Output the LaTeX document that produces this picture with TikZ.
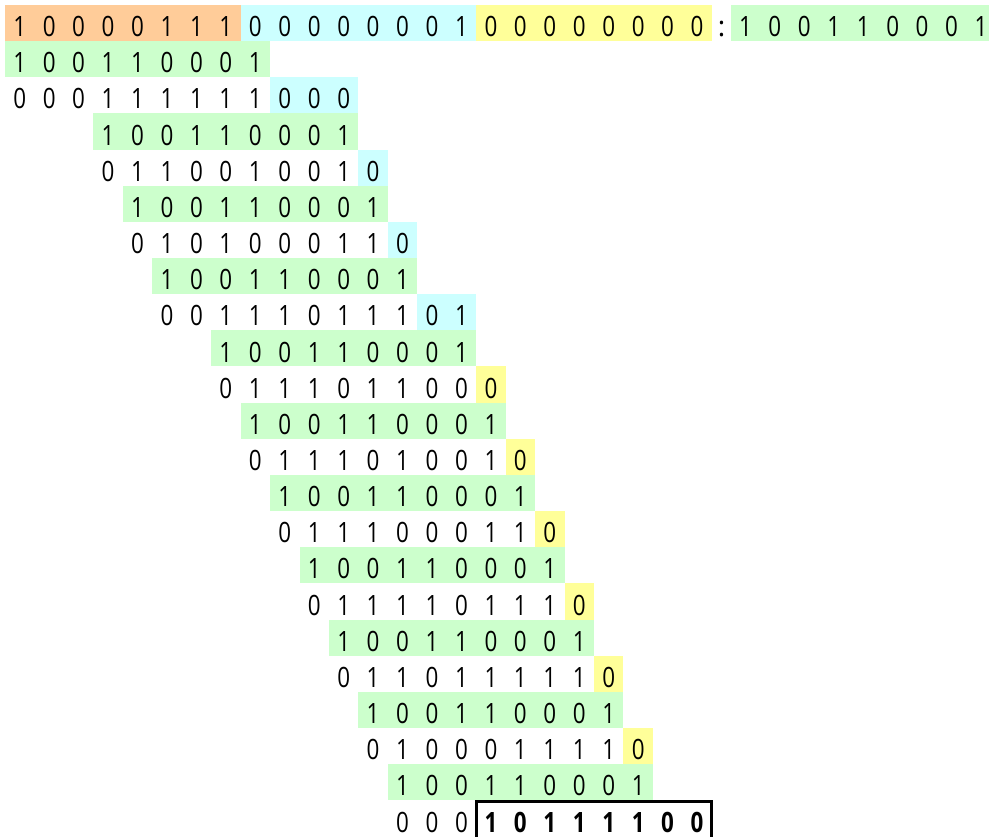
\documentclass[tikz,border=0pt]{standalone}
\usepackage{fontspec}
\usepackage{graphicx}
\setmainfont{Open Sans}
\definecolor{corange}{HTML}{FFCC99}
\definecolor{cblue}{HTML}{CCFFFF}
\definecolor{cyellow}{HTML}{FFFF99}
\definecolor{cgreen}{HTML}{CCFFCC}
\tikzset{
  dig/.style={inner sep=0pt, anchor=base, font=\fontsize{28}{28}\selectfont},
  bolddig/.style={dig, font=\fontsize{28}{28}\selectfont\bfseries},
  resultbox/.style={draw=black, line width=3pt}
}
\def\pp{29.45}
\def\rh{36.15}
% #1 row, #2 start col, #3 count, #4 digits, #5 fill, #6 style
\newcommand\crow[6]{%
  \fill[#5] ({5+#2*\pp},{5+#1*\rh}) rectangle ({5+(#2+#3)*\pp},{5+(#1+1)*\rh});
  \foreach \d [count=\i from 0] in {#4}{%
    \pgfmathtruncatemacro\cc{#2+\i}%
    \node[#6] (d-#1-\cc) at ({5+(#2+\i+0.5)*\pp},{5+#1*\rh+31.7}) {\scalebox{0.8}[1]{\d}};
  }%
}
\begin{document}
\begin{tikzpicture}[x=1pt,y=-1pt]
\useasboundingbox (0,0) rectangle (989,837);
\clip (0,0) rectangle (989,837);
\fill[white] (0,0) rectangle (989,837);
% row 0
\crow{0}{0}{8}{1,0,0,0,0,1,1,1}{corange}{dig}
\crow{0}{8}{8}{0,0,0,0,0,0,0,1}{cblue}{dig}
\crow{0}{16}{8}{0,0,0,0,0,0,0,0}{cyellow}{dig}
\node[dig] (colon) at (721.7,36.7) {:};
\fill[cgreen] (730.7,5) rectangle ({730.7+9*\pp},{5+\rh});
\foreach \d [count=\i from 0] in {1,0,0,1,1,0,0,0,1}{%
  \node[dig] (div-\i) at ({730.7+(\i+0.5)*\pp},36.7) {\scalebox{0.8}[1]{\d}};
}
% rows
\crow{1}{0}{9}{1,0,0,1,1,0,0,0,1}{cgreen}{dig}
\crow{2}{0}{9}{0,0,0,1,1,1,1,1,1}{white}{dig}
\crow{2}{9}{3}{0,0,0}{cblue}{dig}
\crow{3}{3}{9}{1,0,0,1,1,0,0,0,1}{cgreen}{dig}
\crow{4}{3}{9}{0,1,1,0,0,1,0,0,1}{white}{dig}
\crow{4}{12}{1}{0}{cblue}{dig}
\crow{5}{4}{9}{1,0,0,1,1,0,0,0,1}{cgreen}{dig}
\crow{6}{4}{9}{0,1,0,1,0,0,0,1,1}{white}{dig}
\crow{6}{13}{1}{0}{cblue}{dig}
\crow{7}{5}{9}{1,0,0,1,1,0,0,0,1}{cgreen}{dig}
\crow{8}{5}{9}{0,0,1,1,1,0,1,1,1}{white}{dig}
\crow{8}{14}{2}{0,1}{cblue}{dig}
\crow{9}{7}{9}{1,0,0,1,1,0,0,0,1}{cgreen}{dig}
\crow{10}{7}{9}{0,1,1,1,0,1,1,0,0}{white}{dig}
\crow{10}{16}{1}{0}{cyellow}{dig}
\crow{11}{8}{9}{1,0,0,1,1,0,0,0,1}{cgreen}{dig}
\crow{12}{8}{9}{0,1,1,1,0,1,0,0,1}{white}{dig}
\crow{12}{17}{1}{0}{cyellow}{dig}
\crow{13}{9}{9}{1,0,0,1,1,0,0,0,1}{cgreen}{dig}
\crow{14}{9}{9}{0,1,1,1,0,0,0,1,1}{white}{dig}
\crow{14}{18}{1}{0}{cyellow}{dig}
\crow{15}{10}{9}{1,0,0,1,1,0,0,0,1}{cgreen}{dig}
\crow{16}{10}{9}{0,1,1,1,1,0,1,1,1}{white}{dig}
\crow{16}{19}{1}{0}{cyellow}{dig}
\crow{17}{11}{9}{1,0,0,1,1,0,0,0,1}{cgreen}{dig}
\crow{18}{11}{9}{0,1,1,0,1,1,1,1,1}{white}{dig}
\crow{18}{20}{1}{0}{cyellow}{dig}
\crow{19}{12}{9}{1,0,0,1,1,0,0,0,1}{cgreen}{dig}
\crow{20}{12}{9}{0,1,0,0,0,1,1,1,1}{white}{dig}
\crow{20}{21}{1}{0}{cyellow}{dig}
\crow{21}{13}{9}{1,0,0,1,1,0,0,0,1}{cgreen}{dig}
\crow{22}{13}{3}{0,0,0}{white}{dig}
\crow{22}{16}{8}{1,0,1,1,1,1,0,0}{white}{bolddig}
\draw[resultbox] ({5+16*\pp},801.5) rectangle ({5+24*\pp},845);
\end{tikzpicture}
\end{document}
